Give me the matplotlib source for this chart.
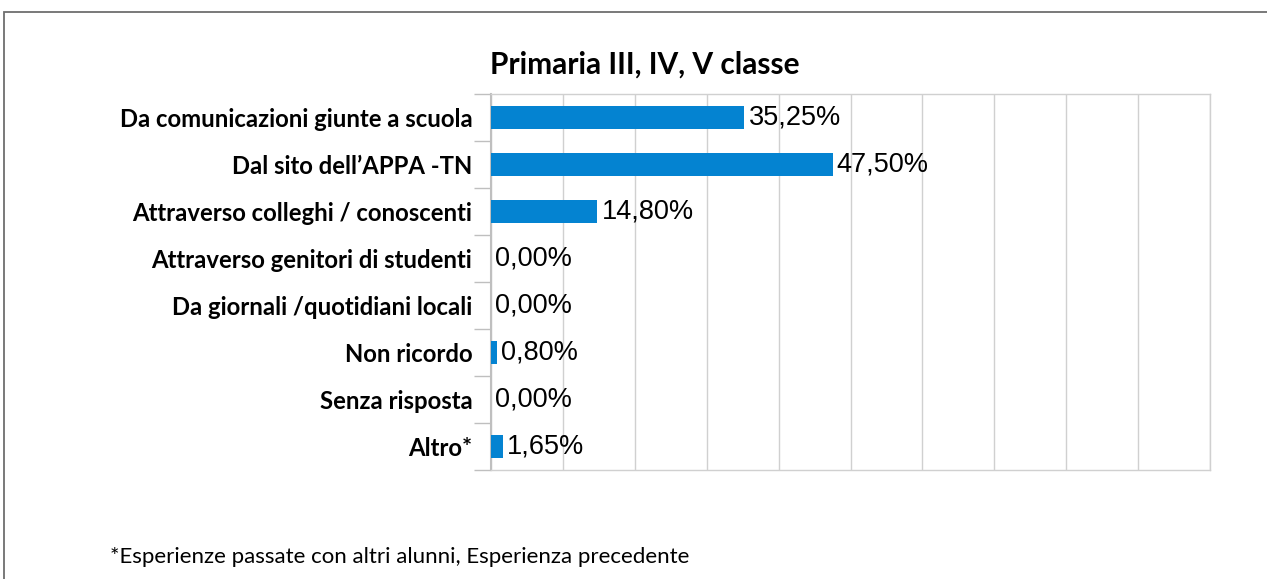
import numpy as np
import matplotlib
matplotlib.use("Agg")
import matplotlib.pyplot as plt
from matplotlib.patches import Rectangle

categories = ["Da comunicazioni giunte a scuola", "Dal sito dell\u2019APPA -TN",
              "Attraverso colleghi / conoscenti", "Attraverso genitori di studenti",
              "Da giornali /quotidiani locali", "Non ricordo", "Senza risposta", "Altro*"]
values = [35.25, 47.50, 14.80, 0.00, 0.00, 0.80, 0.00, 1.65]
title = "Primaria III, IV, V classe"
footnote = "*Esperienze passate con altri alunni, Esperienza precedente"

W, H = 1267, 579
fig = plt.figure(figsize=(W / 100, H / 100), dpi=100)

# outer frame (runs off right/bottom edge)
fig.patches.append(Rectangle((4 / W, -0.1), 1.2, (H - 12) / H + 0.1, transform=fig.transFigure,
                             fill=False, edgecolor="#6e6e6e", linewidth=1.3))

ax = fig.add_axes([491 / W, (H - 470) / H, (1210 - 491) / W, (470 - 94) / H])

y = np.arange(len(categories))
ax.barh(y, values, height=0.51, color="#0483d1", zorder=3)
for yi, v in zip(y, values):
    ax.text(v + 0.6, yi, f"{v:.2f}%".replace(".", ","), va="center", ha="left",
            fontsize=19.5, family="Liberation Sans", color="black", zorder=4)

ax.set_xlim(0, 100)
ax.set_ylim(len(categories) - 0.5, -0.5)
ax.set_xticks(np.arange(0, 101, 10))
ax.tick_params(axis="x", length=0, labelbottom=False)
ax.grid(axis="x", color="#d0d0d0", linewidth=1.0, zorder=0)

ax.set_yticks(y)
ax.set_yticklabels(categories, family="Lato", fontweight="bold", fontsize=17.2)
ax.set_yticks(np.arange(-0.5, len(categories)), minor=True)
ax.tick_params(axis="y", which="major", length=0, pad=13.5)
ax.tick_params(axis="y", which="minor", length=12, color="#bfbfbf", width=1.0)

for side in ["top", "right", "bottom"]:
    ax.spines[side].set_color("#d0d0d0")
    ax.spines[side].set_linewidth(1.0)
ax.spines["left"].set_color("#bfbfbf")
ax.spines["left"].set_linewidth(1.5)

fig.text(645 / W, 1 - 65 / H, title, ha="center", va="center",
         family="Lato", fontweight="bold", fontsize=21.5)
fig.text(110 / W, 1 - 557 / H, footnote, ha="left", va="center",
         family="Lato", fontsize=16)

fig.savefig("out.png", dpi=100)
